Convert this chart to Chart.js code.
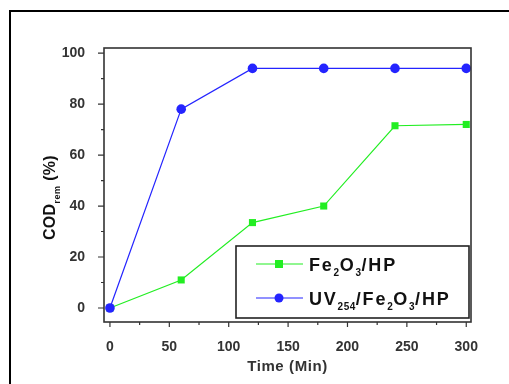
<!DOCTYPE html>
<html>
<head>
<meta charset="utf-8">
<script src="https://cdn.jsdelivr.net/npm/chart.js@4/dist/chart.umd.min.js"></script>
<style>
  html, body { margin: 0; padding: 0; background: #fff; }
  #wrap { width: 509px; height: 384px; position: relative; }
</style>
</head>
<body>
<div id="wrap"><canvas id="grafico"></canvas></div>
<script>
// dados
const tempo = [0, 60, 120, 180, 240, 300]
const fe2o3_hp = [0, 11, 33.5, 40, 71.5, 72]
const uv_fe2o3_hp = [0, 78, 94, 94, 94, 94]
const ticks_x = [0, 50, 100, 150, 200, 250, 300]
const ticks_y = [0, 20, 40, 60, 80, 100]
const menores_x = [25, 75, 125, 175, 225, 275]
const menores_y = [10, 30, 50, 70, 90]

const verde = '#22ee22'
const azul = '#2424ff'
const cinza = '#333333'

// escreve texto com subscritos: partes = [[texto, sub?], ...]
function escreve(ctx, partes, x, y, tam, esp) {
    ctx.textBaseline = 'alphabetic'
    ctx.textAlign = 'left'
    for (const [t, sub] of partes) {
        ctx.font = 'bold ' + (sub ? Math.round(tam * 0.58) : tam) + 'px "Liberation Sans", Arial, sans-serif'
        ctx.letterSpacing = (sub ? 0.5 : esp) + 'px'
        const yy = sub ? y + tam * 0.33 : y
        ctx.fillText(t, x, yy)
        x += ctx.measureText(t).width
    }
    ctx.letterSpacing = '0px'
    return x
}

const enfeites = {
    id: 'enfeites',
    beforeDraw(chart) {
        const c = chart.ctx
        c.save()
        c.fillStyle = '#fff'
        c.fillRect(0, 0, chart.width, chart.height)
        c.fillStyle = '#000'
        c.fillRect(9, 10, 2, 374)
        c.fillRect(9, 10, 500, 2)
        c.restore()
    },
    afterDraw(chart) {
        const c = chart.ctx
        const a = chart.chartArea
        const sx = chart.scales.x
        const sy = chart.scales.y
        c.save()
        // moldura do gráfico
        c.strokeStyle = cinza
        c.lineWidth = 1.6
        c.strokeRect(a.left, a.top, a.right - a.left, a.bottom - a.top)
        // marcas
        c.lineWidth = 1.2
        c.beginPath()
        for (const v of ticks_x) { const p = sx.getPixelForValue(v); c.moveTo(p, a.bottom); c.lineTo(p, a.bottom + 5) }
        for (const v of menores_x) { const p = sx.getPixelForValue(v); c.moveTo(p, a.bottom); c.lineTo(p, a.bottom + 3) }
        for (const v of ticks_y) { const p = sy.getPixelForValue(v); c.moveTo(a.left, p); c.lineTo(a.left - 6, p) }
        for (const v of menores_y) { const p = sy.getPixelForValue(v); c.moveTo(a.left, p); c.lineTo(a.left - 3, p) }
        c.stroke()

        // título x
        c.fillStyle = cinza
        c.font = 'bold 15px "Liberation Sans", Arial, sans-serif'
        c.letterSpacing = '0.6px'
        c.textAlign = 'center'
        c.textBaseline = 'middle'
        c.fillText('Time (Min)', (a.left + a.right) / 2, 367)
        c.letterSpacing = '0px'

        // título y
        c.save()
        c.translate(55, 240)
        c.rotate(-Math.PI / 2)
        c.fillStyle = '#111'
        escreve(c, [['COD', false], ['rem', true], [' (%)', false]], 0, 0, 16, 0.3)
        c.restore()

        // legenda
        const lx = 236, ly = 246, lw = 233, lh = 72
        c.fillStyle = '#fff'
        c.fillRect(lx, ly, lw, lh)
        c.strokeStyle = '#222'
        c.lineWidth = 1.6
        c.strokeRect(lx, ly, lw, lh)
        const linhas = [
            { cor: verde, forma: 'q', y: 264, partes: [['Fe', false], ['2', true], ['O', false], ['3', true], ['/HP', false]] },
            { cor: azul, forma: 'c', y: 298, partes: [['UV', false], ['254', true], ['/Fe', false], ['2', true], ['O', false], ['3', true], ['/HP', false]] }
        ]
        for (const l of linhas) {
            c.strokeStyle = l.cor
            c.lineWidth = 1.2
            c.beginPath(); c.moveTo(256, l.y); c.lineTo(303, l.y); c.stroke()
            c.fillStyle = l.cor
            if (l.forma == 'q') {
                c.fillRect(275, l.y - 4, 8, 8)
            } else {
                c.beginPath(); c.arc(279, l.y, 4.5, 0, Math.PI * 2); c.fill()
            }
            c.fillStyle = '#111'
            escreve(c, l.partes, 309, l.y + 6.5, 18, 1.8)
        }
        c.restore()
    }
}

new Chart(document.getElementById('grafico'), {
    type: 'line',
    data: {
        labels: tempo,
        datasets: [{
            label: 'Fe2O3/HP',
            data: tempo.map((t, i) => ({ x: t, y: fe2o3_hp[i] })),
            borderColor: verde,
            backgroundColor: verde,
            borderWidth: 1.2,
            pointStyle: 'rect',
            pointRadius: 5,
            pointBorderWidth: 0,
            order: 1
        }, {
            label: 'UV254/Fe2O3/HP',
            data: tempo.map((t, i) => ({ x: t, y: uv_fe2o3_hp[i] })),
            borderColor: azul,
            backgroundColor: azul,
            borderWidth: 1.2,
            pointStyle: 'circle',
            pointRadius: 4.8,
            pointBorderWidth: 0,
            order: 0
        }]
    },
    options: {
        responsive: true,
        maintainAspectRatio: false,
        animation: false,
        layout: { padding: { left: 34, right: 38, top: 48, bottom: 22 } },
        plugins: { legend: { display: false }, tooltip: { enabled: false } },
        scales: {
            x: {
                type: 'linear',
                min: -5,
                max: 304,
                afterBuildTicks: s => { s.ticks = ticks_x.map(v => ({ value: v })) },
                afterFit: s => { s.height = 40 },
                grid: { display: false },
                border: { display: false },
                ticks: {
                    padding: 9,
                    color: cinza,
                    font: { family: '"Liberation Sans", Arial, sans-serif', size: 14, weight: 'bold' },
                    maxRotation: 0
                }
            },
            y: {
                min: -5.5,
                max: 102,
                afterBuildTicks: s => { s.ticks = ticks_y.map(v => ({ value: v })) },
                afterFit: s => { s.width = 70 },
                grid: { display: false },
                border: { display: false },
                ticks: {
                    padding: 11,
                    color: cinza,
                    font: { family: '"Liberation Sans", Arial, sans-serif', size: 14, weight: 'bold' }
                }
            }
        }
    },
    plugins: [enfeites]
})
</script>
</body>
</html>
